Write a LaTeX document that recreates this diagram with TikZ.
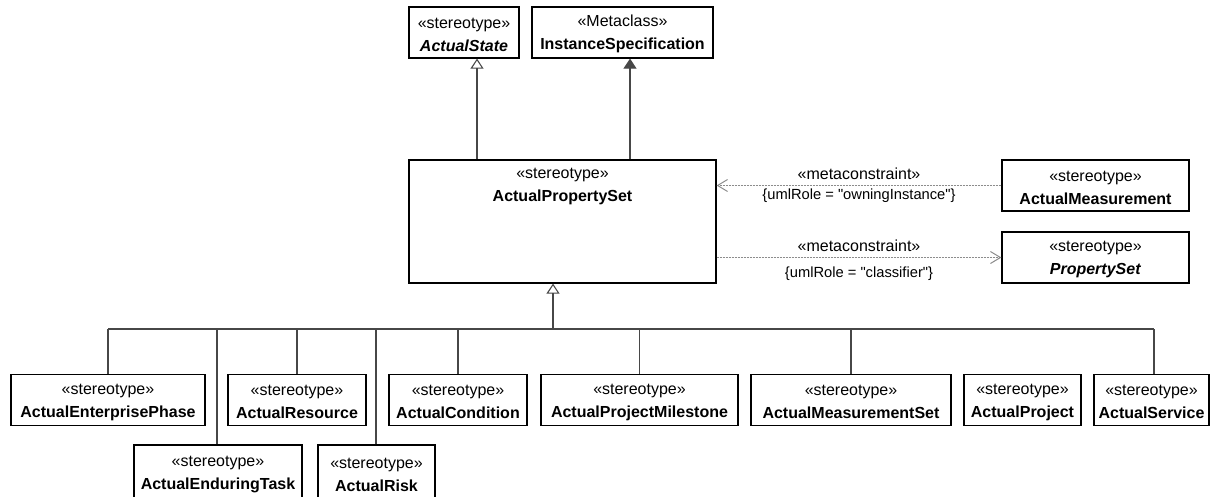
\documentclass[tikz,border=0pt]{standalone}
\usepackage{fontspec}
\setmainfont{Liberation Sans}[Ligatures=TeXOff]
\usetikzlibrary{arrows.meta,positioning}

% two lines of a class box: keyword and name
\newcommand{\stereo}[2]{\rule{0pt}{14.5pt}«#1»\\#2}

\begin{document}
\begin{tikzpicture}[x=1pt,y=-1pt,
    classbox/.style={draw=black, line width=1.2pt, fill=white, inner sep=0pt,
      minimum height=51pt, align=center, font=\fontsize{16}{23}\selectfont},
    conn/.style={draw=black!72, line width=1.1pt},
    gen/.style={conn, -{Triangle[open,length=10pt,width=13pt]}},
    ext/.style={conn, -{Triangle[length=10pt,width=13pt]}, fill=black!72},
    dep/.style={draw=black!45, line width=1pt, dash pattern=on 2pt off 1pt,
      -{Straight Barb[length=10pt,width=12pt]}},
    metalabel/.style={inner sep=0pt, font=\fontsize{16}{18}\selectfont},
    rolelabel/.style={inner sep=0pt, font=\fontsize{14.7}{16}\selectfont}]
    \useasboundingbox (0,0) rectangle (1213,496);
    \clip (0,0) rectangle (1213,496);

    % top classes
    \node[classbox, minimum width=110pt] (state) at (464,32.5) {\stereo{stereotype}{\textbf{\textit{ActualState}}}};
    \node[classbox, minimum width=181pt] (inst) at (622.5,32.5) {\stereo{Metaclass}{\textbf{InstanceSpecification}}};

    % the central class
    \node[classbox, minimum width=307pt, minimum height=123pt] (aps) at (562.5,221.5) {};
    \node[anchor=north, align=center, inner sep=0pt, yshift=-4pt,
      font=\fontsize{16}{23}\selectfont] (apsname) at (aps.north) {\stereo{stereotype}{\textbf{ActualPropertySet}}};

    % right side
    \node[classbox, minimum width=187pt] (meas) at (1095.5,185.5) {\stereo{stereotype}{\textbf{ActualMeasurement}}};
    \node[classbox, minimum width=187pt] (pset) at (1095.5,257.5) {\stereo{stereotype}{\textbf{\textit{PropertySet}}}};

    % first row of subclasses
    \node[classbox, minimum width=194pt] (phase) at (108,400) {\stereo{stereotype}{\textbf{ActualEnterprisePhase}}};
    \node[classbox, minimum width=138pt] (resource) at (297,400) {\stereo{stereotype}{\textbf{ActualResource}}};
    \node[classbox, minimum width=138pt] (condition) at (458,400) {\stereo{stereotype}{\textbf{ActualCondition}}};
    \node[classbox, minimum width=197pt] (milestone) at (639.5,400) {\stereo{stereotype}{\textbf{ActualProjectMilestone}}};
    \node[classbox, minimum width=200pt] (measset) at (851,400) {\stereo{stereotype}{\textbf{ActualMeasurementSet}}};
    \node[classbox, minimum width=117pt] (project) at (1022.5,400) {\stereo{stereotype}{\textbf{ActualProject}}};
    \node[classbox, minimum width=115pt] (service) at (1151.5,400) {\stereo{stereotype}{\textbf{ActualService}}};

    % second row of subclasses
    \node[classbox, minimum width=168pt, minimum height=55pt] (task) at (218,472.5) {\stereo{stereotype}{\textbf{ActualEnduringTask}}};
    \node[classbox, minimum width=117pt, minimum height=55pt] (risk) at (376.5,472.5) {\stereo{stereotype}{\textbf{ActualRisk}}};

    % generalization and extension
    \draw[gen] ([xshift=13pt]state.south |- aps.north) -- ([xshift=13pt]state.south);
    \draw[ext] ([xshift=7.5pt]inst.south |- aps.north) -- ([xshift=7.5pt]inst.south);

    % metaconstraints
    \draw[dep] (meas.west) -- (meas.west -| aps.east)
      node[metalabel, midway, yshift=12pt] (mc1) {«metaconstraint»}
      node[rolelabel, midway, yshift=-10pt] (role1) {\{umlRole = "owningInstance"\}};
    \draw[dep] (pset.west -| aps.east) -- (pset.west)
      node[metalabel, midway, yshift=12pt] (mc2) {«metaconstraint»}
      node[rolelabel, midway, yshift=-16.5pt] (role2) {\{umlRole = "classifier"\}};

    % tree of subclasses
    \coordinate (bus) at (553,329);
    \draw[gen] (bus) -- (bus |- aps.south);
    \draw[conn] (phase.north |- bus) -- ([xshift=2.5pt]service.north |- bus);
    \draw[conn] (phase) -- (phase |- bus);
    \draw[conn] ([xshift=-1pt]task.north) -- ([xshift=-1pt]task.north |- bus);
    \draw[conn] (resource) -- (resource |- bus);
    \draw[conn] ([xshift=-0.5pt]risk.north) -- ([xshift=-0.5pt]risk.north |- bus);
    \draw[conn] (condition) -- (condition |- bus);
    \draw[conn] (milestone) -- (milestone |- bus);
    \draw[conn] (measset) -- (measset |- bus);
    \draw[conn] ([xshift=2.5pt]service.north) -- ([xshift=2.5pt]service.north |- bus);
\end{tikzpicture}
\end{document}
